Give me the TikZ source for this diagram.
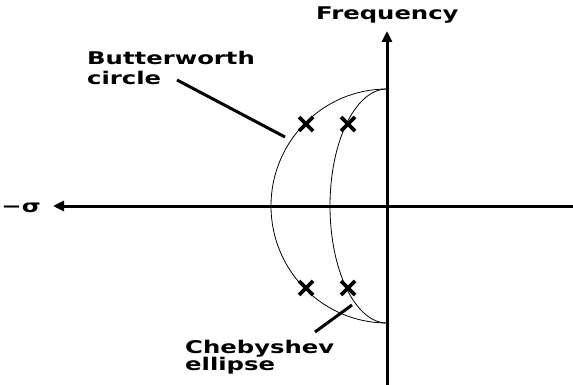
\documentclass[tikz,border=0pt]{standalone}
\usepackage{fontspec}
\newfontfamily\pixfont{DejaVu Sans Bold}[FakeStretch=1.39]
\usetikzlibrary{arrows.meta,calc}
\begin{document}
\begin{tikzpicture}[x=1pt,y=-1pt,
  axis/.style={line width=3pt,-{Triangle[length=11pt,width=10pt]}},
  thinarc/.style={line width=0.8pt},
  leader/.style={line width=3pt},
  pole/.style={line width=3.6pt},
  lbl/.style={font=\pixfont\fontsize{17.5}{20}\selectfont,anchor=base west,inner sep=0pt}]
\useasboundingbox (0,0) rectangle (573,385);
% axes
\coordinate (O) at (387,206);
\coordinate (xr) at (573,206);
\coordinate (xl) at (53,206);
\coordinate (yb) at (387,385);
\coordinate (yt) at (387,31);
\draw[axis] (xr) -- (xl);
\draw[axis] (yb) -- (yt);
\node[lbl,anchor=east] (sig) at (41,208) {−σ};
\node[lbl] (freq) at (316,20) {Frequency};
% circle and ellipse
\draw[thinarc] (387,89) arc[start angle=270,end angle=90,x radius=116,y radius=117];
\draw[thinarc] (387,89) arc[start angle=270,end angle=90,x radius=57,y radius=117];
% poles
\foreach \n/\px/\py in {p1/306/124,p2/348/124,p3/306/288,p4/348/288}{
  \coordinate (\n) at (\px,\py);
  \draw[pole] ($(\n)+(-7,-7)$) -- ($(\n)+(7,7)$);
  \draw[pole] ($(\n)+(-7,7)$) -- ($(\n)+(7,-7)$);
}
% labels
\node[lbl] (bw1) at (87,65) {Butterworth};
\node[lbl] (bw2) at (87,85) {circle};
\node[lbl] (ch1) at (185,353) {Chebyshev};
\node[lbl] (ch2) at (185,370) {ellipse};
\coordinate (bwa) at (177,80);
\coordinate (bwb) at (285,137);
\coordinate (cha) at (315,332);
\coordinate (chb) at (352,305);
\draw[leader] (bwa) -- (bwb);
\draw[leader] (cha) -- (chb);
\end{tikzpicture}
\end{document}
